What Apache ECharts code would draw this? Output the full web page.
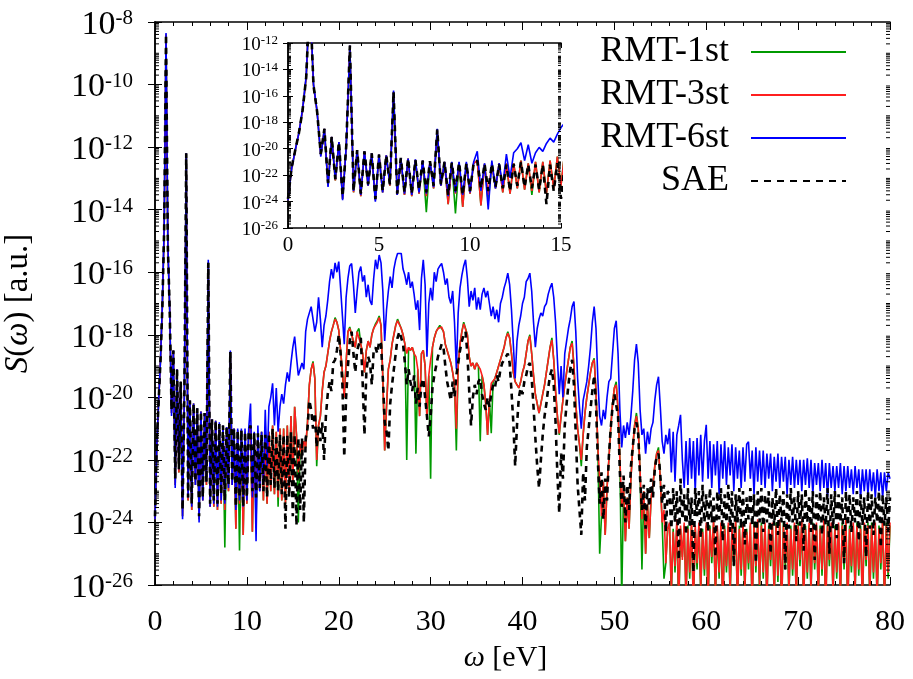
<!DOCTYPE html>
<html><head><meta charset="utf-8">
<script src="https://cdn.jsdelivr.net/npm/echarts@6/dist/echarts.min.js"></script>
<style>html,body{margin:0;padding:0;background:#fff}#c{width:913px;height:679px}</style>
</head><body><div id="c"></div>
<script>
// photon energy grid (eV)
const omega = [
0,0.2,0.4,0.6,0.8,1,1.2,1.4,1.6,1.8,
2,2.2,2.4,2.6,2.8,3,3.2,3.4,3.6,3.8,
4,4.2,4.4,4.6,4.8,5,5.2,5.4,5.6,5.8,
6,6.2,6.4,6.6,6.8,7,7.2,7.4,7.6,7.8,
8,8.2,8.4,8.6,8.8,9,9.2,9.4,9.6,9.8,
10,10.2,10.4,10.6,10.8,11,11.2,11.4,11.6,11.8,
12,12.2,12.4,12.6,12.8,13,13.2,13.4,13.6,13.8,
14,14.2,14.4,14.6,14.8,15,15.2,15.4,15.6,15.8,
16,16.2,16.4,16.6,16.8,17,17.2,17.4,17.6,17.8,
18,18.2,18.4,18.6,18.8,19,19.2,19.4,19.6,19.8,
20,20.2,20.4,20.6,20.8,21,21.2,21.4,21.6,21.8,
22,22.2,22.4,22.6,22.8,23,23.2,23.4,23.6,23.8,
24,24.2,24.4,24.6,24.8,25,25.2,25.4,25.6,25.8,
26,26.2,26.4,26.6,26.8,27,27.2,27.4,27.6,27.8,
28,28.2,28.4,28.6,28.8,29,29.2,29.4,29.6,29.8,
30,30.2,30.4,30.6,30.8,31,31.2,31.4,31.6,31.8,
32,32.2,32.4,32.6,32.8,33,33.2,33.4,33.6,33.8,
34,34.2,34.4,34.6,34.8,35,35.2,35.4,35.6,35.8,
36,36.2,36.4,36.6,36.8,37,37.2,37.4,37.6,37.8,
38,38.2,38.4,38.6,38.8,39,39.2,39.4,39.6,39.8,
40,40.2,40.4,40.6,40.8,41,41.2,41.4,41.6,41.8,
42,42.2,42.4,42.6,42.8,43,43.2,43.4,43.6,43.8,
44,44.2,44.4,44.6,44.8,45,45.2,45.4,45.6,45.8,
46,46.2,46.4,46.6,46.8,47,47.2,47.4,47.6,47.8,
48,48.2,48.4,48.6,48.8,49,49.2,49.4,49.6,49.8,
50,50.2,50.4,50.6,50.8,51,51.2,51.4,51.6,51.8,
52,52.2,52.4,52.6,52.8,53,53.2,53.4,53.6,53.8,
54,54.2,54.4,54.6,54.8,55,55.2,55.4,55.6,55.8,
56,56.2,56.4,56.6,56.8,57,57.2,57.4,57.6,57.8,
58,58.2,58.4,58.6,58.8,59,59.2,59.4,59.6,59.8,
60,60.2,60.4,60.6,60.8,61,61.2,61.4,61.6,61.8,
62,62.2,62.4,62.6,62.8,63,63.2,63.4,63.6,63.8,
64,64.2,64.4,64.6,64.8,65,65.2,65.4,65.6,65.8,
66,66.2,66.4,66.6,66.8,67,67.2,67.4,67.6,67.8,
68,68.2,68.4,68.6,68.8,69,69.2,69.4,69.6,69.8,
70,70.2,70.4,70.6,70.8,71,71.2,71.4,71.6,71.8,
72,72.2,72.4,72.6,72.8,73,73.2,73.4,73.6,73.8,
74,74.2,74.4,74.6,74.8,75,75.2,75.4,75.6,75.8,
76,76.2,76.4,76.6,76.8,77,77.2,77.4,77.6,77.8,
78,78.2,78.4,78.6,78.8,79,79.2,79.4,79.6,79.8,
80];

// log10 of S(omega) [a.u.]
const rmt1Log = [
-23.9,-21.5,-20.1,-18.8,-17.1,-14.6,-8.4,-15.2,-17.2,-20.5,
-18.5,-22.8,-19.1,-22.4,-19.5,-23.8,-19.8,-12.2,-23.3,-20.1,
-23.6,-20.2,-22.8,-20.35,-23.9,-20.45,-23.3,-20.5,-22.8,-15.7,
-23.5,-20.7,-23.5,-20.75,-23.6,-20.85,-23.4,-20.9,-24.8,-20.95,
-23.0,-18.55,-22.8,-21.0,-24.2,-21.05,-24.9,-21.05,-24.4,-21.1,
-23.4,-21.1,-20.9,-24.3,-21.15,-24.0,-21.15,-23.0,-21.1,-23.3,
-21.1,-23.4,-21.1,-23.0,-20.9,-23.1,-21.1,-23.5,-21.0,-23.3,
-21.0,-23.4,-20.9,-23.0,-20.6,-22.8,-20.3,-21.2,-24.0,-21.5,
-21.8,-21.4,-21.6,-20.8,-19.6,-19.1,-18.85,-19.4,-22.2,-20.9,
-20.6,-19.8,-19.2,-19.0,-18.6,-18.2,-17.9,-17.7,-17.45,-17.6,
-17.85,-18.5,-19.2,-20.0,-18.9,-17.9,-17.75,-18.0,-18.2,-18.4,
-17.9,-17.8,-18.3,-18.6,-19.2,-18.5,-18.2,-18.4,-18.0,-17.8,
-17.65,-17.55,-17.4,-17.7,-19.4,-21.7,-20.3,-19.1,-18.8,-18.3,
-18.0,-17.7,-17.5,-17.5,-17.8,-18.0,-18.3,-22.0,-18.4,-18.5,
-18.4,-18.6,-21.8,-19.1,-20.6,-18.6,-18.5,-19.0,-20.7,-19.3,
-22.6,-18.4,-18.1,-17.9,-17.8,-17.7,-17.7,-17.9,-18.3,-18.5,
-18.7,-18.9,-19.2,-19.6,-21.7,-19.0,-18.3,-17.9,-17.6,-17.55,
-18.0,-18.7,-19.0,-18.9,-19.1,-18.9,-19.0,-21.4,-19.3,-19.6,
-20.2,-21.2,-20.1,-21.15,-19.5,-19.4,-19.2,-19.0,-18.8,-18.6,
-18.4,-18.1,-17.9,-18.1,-18.6,-19.2,-19.5,-19.6,-19.7,-19.5,
-19.2,-19.0,-18.6,-18.2,-18.0,-18.6,-19.3,-19.9,-20.2,-20.5,
-20.2,-19.9,-19.6,-19.2,-18.8,-18.4,-18.1,-18.8,-19.8,-20.6,
-21.2,-20.6,-20.1,-19.6,-19.2,-18.8,-18.4,-18.2,-19.0,-20.2,
-21.0,-21.5,-22.2,-21.2,-20.5,-20.0,-19.6,-19.2,-18.9,-18.75,
-19.8,-21.6,-25.0,-23.8,-22.7,-24.4,-22.9,-22.0,-21.0,-20.2,
-19.7,-19.5,-20.4,-22.0,-26.5,-22.8,-24.6,-23.2,-24.2,-22.6,
-21.6,-20.9,-20.5,-21.0,-22.4,-25.5,-23.0,-25.0,-23.4,-24.5,
-23.2,-22.8,-22.2,-21.8,-21.6,-22.6,-24.0,-25.8,-25.3,-24.2,
-24.1,-26.4,-24.2,-25.6,-24.0,-26.9,-24.2,-25.1,-24.1,-26.6,
-24.1,-25.8,-24.0,-26.9,-24.2,-25.5,-24.1,-26.3,-24.2,-25.7,
-24.1,-26.7,-24.1,-25.3,-24.0,-26.5,-24.2,-25.8,-24.1,-27.0,
-24.1,-25.6,-24.1,-26.4,-24.2,-25.4,-24.0,-26.8,-24.1,-25.7,
-24.1,-26.3,-24.2,-25.5,-24.1,-26.9,-24.0,-25.6,-24.0,-26.2,
-24.0,-25.8,-24.1,-26.7,-24.1,-25.4,-24.1,-26.5,-24.0,-25.9,
-24.0,-27.0,-24.0,-25.5,-24.1,-26.4,-24.1,-25.7,-24.1,-26.6,
-24.0,-25.4,-24.0,-26.8,-24.1,-25.8,-24.1,-26.3,-24.0,-25.5,
-24.1,-26.5,-24.1,-25.7,-24.0,-27.0,-24.0,-25.4,-24.1,-26.4,
-24.1,-25.8,-24.1,-26.6,-24.0,-25.5,-24.0,-26.9,-24.1,-25.6,
-24.1,-26.3,-24.0,-25.7,-24.1,-26.8,-24.1,-25.4,-24.0,-26.5,
-24.0,-25.8,-24.1,-26.6,-24.1,-25.5,-24.0,-26.7,-24.0,-25.8,
-24.1];

const rmt3Log = [
-23.9,-21.5,-20.1,-18.8,-17.1,-14.6,-8.4,-15.2,-17.2,-20.5,
-18.5,-22.8,-19.1,-22.4,-19.5,-23.8,-19.8,-12.2,-23.3,-20.1,
-23.6,-20.2,-22.8,-20.35,-23.9,-20.45,-23.3,-20.5,-22.8,-15.7,
-23.5,-20.7,-23.5,-20.75,-23.6,-20.85,-23.4,-20.9,-23.6,-20.95,
-23.0,-18.55,-22.8,-21.0,-24.2,-21.05,-23.4,-21.05,-24.4,-21.1,
-23.4,-21.1,-20.9,-24.3,-21.15,-23.5,-21.15,-23.0,-21.1,-23.3,
-21.1,-23.4,-21.1,-23.0,-20.9,-23.1,-21.1,-23.2,-21.0,-23.3,
-21.0,-23.4,-20.9,-23.0,-20.6,-22.8,-20.3,-21.2,-22.4,-21.5,
-21.8,-21.4,-21.6,-20.8,-19.6,-19.1,-18.9,-19.4,-22.0,-20.9,
-20.6,-19.8,-19.2,-19.0,-18.6,-18.2,-17.9,-17.7,-17.5,-17.6,
-17.85,-18.5,-19.2,-20.0,-18.9,-17.9,-17.8,-18.0,-18.2,-18.4,
-17.9,-17.85,-18.3,-18.6,-19.2,-18.5,-18.2,-18.4,-18.0,-17.8,
-17.7,-17.6,-17.45,-17.7,-19.4,-21.7,-20.3,-19.1,-18.8,-18.3,
-18.0,-17.7,-17.55,-17.55,-17.8,-18.0,-18.3,-18.6,-18.4,-18.5,
-18.4,-18.6,-18.7,-19.1,-20.6,-18.6,-18.5,-19.0,-20.7,-19.3,
-18.8,-18.4,-18.1,-17.9,-17.8,-17.75,-17.75,-17.9,-18.3,-18.5,
-18.7,-18.9,-19.2,-19.6,-21.0,-19.0,-18.3,-17.9,-17.65,-17.6,
-18.0,-18.7,-19.0,-18.9,-19.1,-18.9,-19.0,-19.1,-19.3,-19.6,
-20.2,-21.2,-20.1,-19.55,-19.5,-19.4,-19.2,-19.0,-18.8,-18.6,
-18.4,-18.1,-17.95,-18.1,-18.6,-19.2,-19.5,-19.6,-19.7,-19.5,
-19.2,-19.0,-18.6,-18.2,-18.05,-18.6,-19.3,-19.9,-20.2,-20.5,
-20.2,-19.9,-19.6,-19.2,-18.8,-18.4,-18.17,-18.8,-19.8,-20.6,
-21.15,-20.6,-20.1,-19.6,-19.2,-18.8,-18.4,-18.27,-19.0,-20.2,
-21.0,-21.5,-22.0,-21.2,-20.5,-20.0,-19.6,-19.2,-18.9,-18.8,
-19.8,-21.6,-22.6,-23.8,-22.7,-24.4,-22.9,-22.0,-21.0,-20.2,
-19.7,-19.6,-20.4,-22.0,-23.5,-22.8,-24.6,-23.2,-24.2,-22.6,
-21.6,-20.9,-20.6,-21.0,-22.4,-23.9,-23.0,-25.0,-23.4,-24.5,
-23.2,-22.8,-22.2,-21.8,-21.7,-22.6,-24.0,-23.6,-25.3,-24.2,
-24.0,-26.2,-24.3,-25.4,-23.9,-26.6,-24.1,-25.2,-24.0,-26.4,
-24.2,-25.6,-23.9,-26.8,-24.1,-25.3,-24.0,-26.1,-24.3,-25.5,
-24.0,-26.5,-24.2,-25.1,-23.9,-26.3,-24.1,-25.6,-24.0,-26.9,
-24.2,-25.4,-24.0,-26.2,-24.1,-25.2,-23.9,-26.6,-24.2,-25.5,
-24.0,-26.1,-24.3,-25.3,-24.0,-26.7,-24.1,-25.4,-23.9,-26.0,
-24.1,-25.6,-24.0,-26.5,-24.2,-25.2,-24.0,-26.3,-24.1,-25.7,
-23.9,-26.8,-24.1,-25.3,-24.0,-26.2,-24.2,-25.5,-24.0,-26.4,
-24.1,-25.2,-23.9,-26.6,-24.2,-25.6,-24.0,-26.1,-24.1,-25.3,
-24.0,-26.3,-24.2,-25.5,-23.9,-26.9,-24.1,-25.2,-24.0,-26.2,
-24.2,-25.6,-24.0,-26.4,-24.1,-25.3,-23.9,-26.7,-24.2,-25.4,
-24.0,-26.1,-24.1,-25.5,-24.2,-26.6,-24.0,-25.2,-24.1,-26.3,
-24.1,-25.6,-24.0,-26.4,-24.2,-25.3,-23.9,-26.5,-24.1,-25.6,
-24.0];

const rmt6Log = [
-23.9,-21.5,-20.1,-18.8,-17.0,-14.5,-8.35,-15.1,-17.2,-20.6,
-18.5,-22.9,-19.1,-22.3,-19.5,-23.9,-19.8,-12.2,-23.2,-20.1,
-23.5,-20.2,-22.8,-20.35,-24.0,-20.45,-23.3,-20.5,-22.7,-15.6,
-23.5,-20.7,-23.4,-20.75,-23.5,-20.8,-23.3,-20.9,-23.4,-20.95,
-22.9,-18.5,-22.8,-21.0,-23.6,-21.0,-23.3,-21.0,-23.5,-21.0,
-23.3,-21.0,-20.2,-23.2,-21.1,-24.6,-20.9,-23.0,-21.1,-22.8,
-20.4,-22.2,-20.3,-20.0,-19.55,-20.9,-19.7,-21.1,-20.3,-19.9,
-20.2,-19.6,-19.2,-19.5,-18.9,-18.4,-18.06,-18.7,-19.3,-19.1,
-18.9,-19.1,-17.9,-17.5,-17.3,-17.1,-17.5,-17.9,-17.6,-16.8,
-17.5,-18.4,-17.7,-17.4,-16.9,-16.3,-15.9,-16.2,-15.7,-16.0,
-15.66,-16.5,-17.4,-18.3,-16.8,-16.2,-15.8,-15.72,-16.4,-17.3,
-16.6,-16.0,-15.82,-16.3,-16.1,-16.8,-16.4,-16.9,-17.05,-16.2,
-15.6,-15.9,-15.45,-15.7,-16.6,-18.2,-17.2,-16.6,-16.14,-16.5,
-15.9,-15.6,-15.4,-15.34,-15.4,-15.9,-16.1,-16.4,-16.0,-16.5,
-16.3,-16.7,-17.2,-16.9,-17.85,-16.2,-15.6,-16.4,-18.7,-17.0,
-16.5,-16.9,-16.0,-16.3,-15.9,-15.8,-15.72,-16.0,-16.4,-16.2,
-16.8,-17.0,-16.6,-17.6,-19.1,-17.3,-16.5,-16.1,-15.8,-15.6,
-16.2,-17.1,-16.6,-16.9,-16.5,-17.2,-16.8,-17.2,-16.7,-16.5,
-16.8,-16.6,-17.0,-17.4,-17.1,-17.5,-17.2,-17.6,-17.0,-16.8,
-16.5,-16.3,-16.03,-16.4,-17.2,-18.3,-19.4,-18.2,-17.7,-17.4,
-17.0,-16.8,-16.3,-16.2,-16.03,-16.6,-17.6,-18.4,-17.8,-17.5,
-17.3,-17.4,-17.1,-17.0,-16.7,-16.5,-16.35,-16.8,-17.6,-18.8,
-19.9,-19.0,-20.0,-18.6,-18.2,-17.8,-17.5,-17.1,-16.94,-17.9,
-19.4,-20.3,-21.0,-20.1,-19.8,-19.5,-19.0,-18.4,-17.6,-17.1,
-17.8,-19.4,-20.6,-20.9,-20.4,-20.7,-20.0,-19.5,-19.4,-18.6,
-17.8,-17.55,-18.6,-20.4,-21.6,-20.9,-21.3,-20.8,-21.2,-20.6,
-19.8,-18.8,-18.3,-18.9,-20.4,-21.2,-21.0,-21.8,-21.1,-21.5,
-21.0,-20.8,-20.1,-19.6,-19.34,-20.3,-21.4,-21.8,-21.2,-21.5,
-21.0,-22.4,-21.1,-22.7,-21.2,-20.9,-20.56,-22.0,-22.9,-21.4,
-22.8,-21.3,-22.6,-21.4,-23.0,-21.3,-22.5,-21.2,-22.7,-21.4,
-20.88,-22.6,-21.4,-22.9,-21.5,-22.5,-21.4,-23.1,-21.5,-22.6,
-21.4,-22.8,-21.6,-22.5,-21.5,-23.0,-21.6,-22.6,-21.7,-22.9,
-21.6,-22.7,-21.5,-21.42,-22.6,-21.7,-23.1,-21.6,-22.7,-21.7,
-22.8,-21.7,-22.9,-21.8,-22.6,-21.8,-23.0,-21.9,-22.7,-21.8,
-22.9,-21.9,-22.7,-21.9,-23.1,-22.0,-22.8,-21.9,-22.9,-22.0,
-22.8,-22.0,-23.0,-22.0,-22.8,-21.95,-22.9,-22.0,-23.1,-22.1,
-22.8,-22.1,-23.0,-22.0,-22.9,-22.1,-23.2,-22.1,-22.9,-22.2,
-23.0,-22.2,-22.9,-22.1,-23.1,-22.2,-23.0,-22.2,-22.9,-22.3,
-23.1,-22.2,-22.9,-22.3,-23.2,-22.3,-23.0,-22.3,-23.1,-22.3,
-23.0,-22.4,-23.2,-22.3,-23.0,-22.4,-23.2,-22.4,-23.0,-22.4,
-22.6];

const saeLog = [
-23.8,-21.4,-20.1,-18.8,-17.1,-14.6,-8.4,-15.2,-17.2,-20.4,
-18.5,-22.6,-19.1,-22.3,-19.5,-23.6,-19.8,-12.2,-23.2,-20.1,
-23.4,-20.2,-22.7,-20.35,-23.8,-20.45,-23.2,-20.5,-22.7,-15.7,
-23.4,-20.7,-23.3,-20.75,-23.4,-20.85,-23.1,-20.9,-23.3,-20.95,
-22.8,-18.55,-22.7,-21.0,-23.5,-21.05,-23.2,-21.05,-23.5,-21.1,
-23.2,-21.1,-20.9,-23.0,-21.15,-23.2,-21.15,-22.9,-21.2,-23.0,
-21.2,-23.2,-21.15,-22.8,-21.0,-22.9,-21.2,-23.0,-21.2,-23.1,
-21.2,-24.2,-21.2,-23.2,-21.1,-23.8,-21.2,-24.1,-21.3,-23.6,
-21.3,-24.0,-21.3,-21.0,-20.1,-20.4,-21.0,-20.5,-21.6,-20.9,
-21.4,-20.8,-22.0,-20.6,-19.9,-19.5,-19.8,-18.9,-18.8,-18.5,
-18.0,-18.6,-19.6,-21.9,-20.0,-19.0,-18.2,-17.9,-18.6,-19.2,
-18.5,-18.3,-18.1,-19.5,-21.2,-19.2,-18.7,-18.9,-19.6,-18.5,
-18.4,-18.6,-18.2,-18.3,-19.4,-20.8,-21.1,-21.7,-20.2,-19.6,
-19.1,-18.6,-18.1,-17.9,-17.85,-18.3,-18.9,-19.6,-19.1,-19.5,
-19.8,-19.3,-20.2,-19.7,-20.3,-19.6,-19.4,-20.0,-20.6,-21.25,
-20.6,-19.7,-19.3,-19.0,-18.7,-18.5,-18.3,-18.4,-19.0,-19.5,
-19.8,-20.1,-19.5,-20.0,-19.3,-18.9,-18.5,-18.2,-18.0,-17.9,
-18.6,-19.8,-20.9,-20.0,-19.6,-19.9,-19.5,-19.4,-19.9,-20.2,
-20.4,-20.0,-20.3,-19.9,-19.6,-19.7,-19.3,-19.5,-19.1,-18.9,
-18.8,-18.7,-18.6,-18.9,-19.8,-20.8,-22.2,-20.9,-20.0,-19.7,
-19.9,-19.5,-19.3,-19.0,-18.9,-19.4,-20.3,-21.3,-22.2,-22.9,
-22.0,-21.2,-20.6,-20.2,-19.7,-19.3,-19.1,-19.6,-20.8,-22.5,
-23.7,-21.8,-22.6,-20.9,-20.2,-19.6,-19.1,-18.8,-19.6,-21.2,
-22.8,-23.6,-24.4,-22.4,-23.3,-21.6,-21.0,-20.4,-19.8,-19.3,
-20.2,-22.0,-23.4,-22.4,-23.9,-22.6,-23.3,-21.9,-21.0,-20.3,
-19.9,-19.85,-20.6,-22.4,-23.5,-22.5,-24.0,-22.8,-23.6,-22.2,
-21.6,-21.0,-20.8,-21.2,-22.6,-23.6,-22.8,-24.2,-22.9,-23.5,
-22.6,-23.2,-22.3,-21.9,-21.8,-22.5,-23.4,-22.8,-24.3,-23.0,
-23.1,-24.2,-22.9,-24.0,-23.0,-25.2,-22.6,-23.9,-23.1,-24.4,
-22.9,-24.1,-23.2,-25.6,-22.9,-23.8,-23.0,-24.5,-22.8,-24.0,
-23.1,-24.3,-22.9,-24.0,-23.2,-25.1,-23.0,-23.9,-22.9,-24.6,
-23.1,-24.0,-22.8,-24.3,-23.0,-25.4,-23.1,-24.0,-22.9,-24.2,
-23.0,-24.7,-23.2,-23.9,-22.9,-24.1,-23.1,-25.3,-23.0,-24.0,
-22.9,-24.3,-23.1,-24.0,-23.0,-25.0,-23.2,-24.1,-22.9,-24.4,
-23.1,-24.0,-23.0,-25.5,-23.1,-24.2,-22.9,-24.0,-23.2,-24.6,
-23.0,-24.1,-23.1,-24.9,-22.9,-24.0,-23.2,-24.3,-23.0,-25.2,
-23.1,-24.0,-23.0,-24.4,-23.2,-24.1,-22.9,-25.0,-23.1,-24.2,
-23.0,-24.5,-23.1,-24.0,-23.2,-25.3,-23.0,-24.1,-23.1,-24.3,
-23.2,-24.0,-23.0,-24.6,-23.1,-24.1,-23.2,-25.1,-23.0,-24.2,
-23.1,-24.4,-23.2,-24.0,-23.0,-24.8,-23.1,-24.1,-23.2,-24.3,
-23.2];

const seriesNames = ['RMT-1st', 'RMT-3st', 'RMT-6st', 'SAE'];
const FONT = 'Liberation Serif';
const chart = echarts.init(document.getElementById('c'));

// y axes are in decades (log10 S), labelled as powers of ten
function toPairs(logArr, maxW) {
  const out = [];
  for (let i = 0; i < omega.length; i++) {
    if (maxW != null && omega[i] > maxW) break;
    out.push([omega[i], logArr[i]]);
  }
  return out;
}
const styles = [
  {color: '#009a00', width: 1.6, type: 'solid'},
  {color: '#ff1f1f', width: 1.6, type: 'solid'},
  {color: '#0000ff', width: 1.6, type: 'solid'},
  {color: '#000000', width: 2.6, type: [6, 5]}
];
const logs = [rmt1Log, rmt3Log, rmt6Log, saeLog];
function lineSeries(k, xi, yi, maxW) {
  return {type: 'line', name: seriesNames[k], xAxisIndex: xi, yAxisIndex: yi,
    data: toPairs(logs[k], maxW), symbol: 'none', showSymbol: false,
    lineStyle: {color: styles[k].color, width: styles[k].width, type: styles[k].type},
    itemStyle: {color: styles[k].color}, silent: true, z: 2 + k};
}
// log-scale minor tick positions (1..9 x 10^e), in decades
function minorTickValues(eMin, eMax) {
  const v = [];
  for (let e = eMin; e < eMax; e++) {
    if (Math.abs(e) % 2 === 1) v.push([0, e]);
    for (let k = 2; k <= 9; k++) v.push([0, e + Math.log10(k)]);
  }
  return v;
}
function tickRender(len) {
  return function (params, api) {
    const cs = params.coordSys;
    const y = api.coord([api.value(0), api.value(1)])[1];
    return {type: 'group', children: [
      {type: 'line', shape: {x1: cs.x, y1: y, x2: cs.x + len, y2: y}, style: {stroke: '#000', lineWidth: 1}},
      {type: 'line', shape: {x1: cs.x + cs.width - len, y1: y, x2: cs.x + cs.width, y2: y}, style: {stroke: '#000', lineWidth: 1}}
    ]};
  };
}
function expLabel(v) { return '{b|10}{s|' + Math.round(v) + '}'; }
function axisLine() { return {show: true, lineStyle: {color: '#000', width: 1.5}}; }
function xAx(grid, pos, max, interval, showLabel, big) {
  return {type: 'value', gridIndex: grid, position: pos, min: 0, max: max, interval: interval,
    axisLine: axisLine(), splitLine: {show: false},
    axisTick: {show: true, inside: true, length: big ? 8 : 5, lineStyle: {color: '#000', width: 1}},
    minorTick: {show: true, splitNumber: 5, length: big ? 4 : 3, lineStyle: {color: '#000', width: 1}},
    axisLabel: {show: showLabel, color: '#000', fontFamily: FONT, fontSize: big ? 30 : 21, margin: big ? 22 : 7}};
}
function yAx(grid, pos, minV, maxV, showLabel, big) {
  return {type: 'value', gridIndex: grid, position: pos, min: minV, max: maxV, interval: 2,
    axisLine: axisLine(), splitLine: {show: false},
    axisTick: {show: true, inside: true, length: big ? 7 : 5, lineStyle: {color: '#000', width: 1}},
    axisLabel: {show: showLabel, formatter: expLabel, margin: big ? 22 : 10,
      padding: big ? [6, 0, 0, 0] : [3, 0, 0, 0],
      rich: big ? {
        b: {fontFamily: FONT, fontSize: 34, lineHeight: 34, color: '#000', verticalAlign: 'bottom'},
        s: {fontFamily: FONT, fontSize: 21, lineHeight: 20, color: '#000', verticalAlign: 'top'}
      } : {
        b: {fontFamily: FONT, fontSize: 19, lineHeight: 20, color: '#000', verticalAlign: 'bottom'},
        s: {fontFamily: FONT, fontSize: 13, lineHeight: 9, color: '#000', verticalAlign: 'top'}
      }}};
}

const xAxes = [xAx(0, 'bottom', 80, 10, true, true), xAx(0, 'top', 80, 10, false, true),
               xAx(1, 'bottom', 15, 5, true, false), xAx(1, 'top', 15, 5, false, false)];
const yAxes = [yAx(0, 'left', -26, -8, true, true), yAx(0, 'right', -26, -8, false, true),
               yAx(1, 'left', -26, -12, true, false), yAx(1, 'right', -26, -12, false, false)];
Object.assign(xAxes[0], {name: '{i|ω} [eV]', nameLocation: 'middle', nameGap: 58, nameMoveOverlap: false,
  nameTextStyle: {fontFamily: FONT, fontSize: 30, color: '#000', padding: [0, 34, 0, 0],
    rich: {i: {fontFamily: FONT, fontSize: 30, fontStyle: 'italic', color: '#000'}}}});
Object.assign(yAxes[0], {name: '{i|S}({i|ω}) [a.u.]', nameLocation: 'middle', nameRotate: 90, nameGap: 120,
  nameMoveOverlap: false,
  nameTextStyle: {fontFamily: FONT, fontSize: 33, color: '#000',
    rich: {i: {fontFamily: FONT, fontSize: 33, fontStyle: 'italic', color: '#000'}}}});

const series = [];
for (let k = 0; k < 4; k++) series.push(lineSeries(k, 0, 0, null));
for (let k = 0; k < 4; k++) series.push(lineSeries(k, 2, 2, 15.2));
series.push({type: 'custom', xAxisIndex: 0, yAxisIndex: 0, data: minorTickValues(-26, -8), renderItem: tickRender(4), silent: true, z: 10, encode: {x: 0, y: 1}});
series.push({type: 'custom', xAxisIndex: 2, yAxisIndex: 2, data: minorTickValues(-26, -12), renderItem: tickRender(3), silent: true, z: 10, encode: {x: 0, y: 1}});

chart.setOption({
  animation: false, backgroundColor: '#fff', textStyle: {fontFamily: FONT},
  grid: [
    {left: 155, top: 22, width: 735, height: 563, containLabel: false, outerBoundsMode: 'none'},
    {left: 288, top: 43, width: 273, height: 185, containLabel: false, outerBoundsMode: 'none',
     show: true, backgroundColor: '#fff', borderWidth: 0}
  ],
  legend: {orient: 'vertical', align: 'right', right: 66, top: 34, padding: 0,
    itemWidth: 95, itemHeight: 12, itemGap: 7, selectedMode: false,
    textStyle: {fontFamily: FONT, fontSize: 36, color: '#000', lineHeight: 36, padding: [0, 17, 0, 0]},
    data: seriesNames.map((n, k) => ({name: n, itemStyle: {opacity: 0},
      lineStyle: {width: 2, type: k === 3 ? [7, 6] : 'solid'}}))},
  xAxis: xAxes, yAxis: yAxes, series: series
});
</script></body></html>
